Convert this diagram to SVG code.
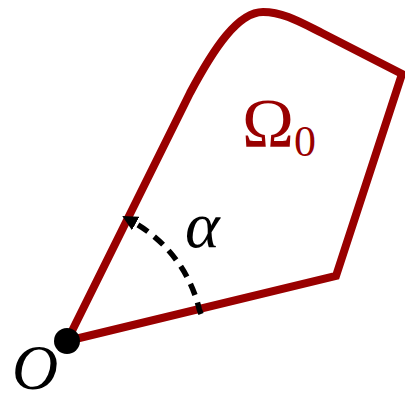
<svg xmlns="http://www.w3.org/2000/svg" width="405" height="403" viewBox="0 0 405 403">
<defs>
<style>
.region{fill:none;stroke:#990000;stroke-width:8;stroke-linejoin:miter;stroke-linecap:butt}
.angle{fill:none;stroke:#000;stroke-width:5.5;stroke-dasharray:12 8}
.lbl{font-family:"Liberation Serif","DejaVu Serif",serif}
</style>
<marker id="ah" viewBox="0 0 10 10" refX="2" refY="5" markerWidth="2.8" markerHeight="2.8" orient="auto" markerUnits="strokeWidth">
<path d="M0 0 L10 5 L0 10 Z" fill="#000"/>
</marker>
</defs>
<g id="region">
<path class="region" d="M67 341 L336 276 L402 74 L322 33 C300 22 283 12 263 12 C238 12 214 48 190 93 Z"/>
</g>
<g id="connectors">
<path class="angle" d="M201 314 L199.3 309.5 A136 136 0 0 0 133 222" marker-end="url(#ah)"/>
</g>
<g id="origin">
<circle cx="67" cy="341" r="13" fill="#000"/>
<text class="lbl" x="12" y="389" font-size="64" font-style="italic">O</text>
</g>
<g id="alpha">
<text class="lbl" x="185" y="247" font-size="66" font-style="italic">α</text>
</g>
<g id="omega">
<text class="lbl" x="242" y="147" font-size="70" fill="#990000">Ω<tspan font-size="44" dy="9">0</tspan></text>
</g>
</svg>
